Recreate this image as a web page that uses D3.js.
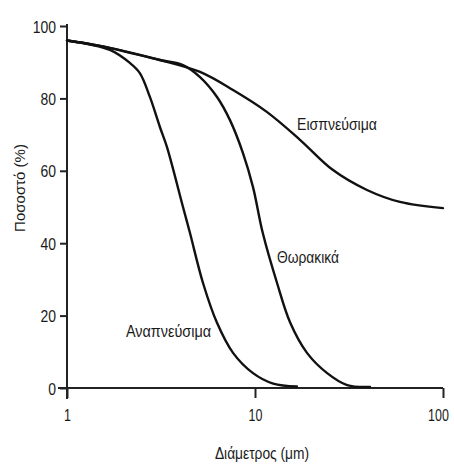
<!DOCTYPE html>
<html>
<head>
<meta charset="utf-8">
<script src="https://cdn.jsdelivr.net/npm/d3@7"></script>
<style>
  html, body { margin: 0; padding: 0; background: #fff; }
  svg text { font-family: "Liberation Sans", Arial, sans-serif; fill: #1a1a1a; }
</style>
</head>
<body>
<svg id="chart" width="454" height="465"></svg>
<script>
// Particle size fractions: collection efficiency (%) vs aerodynamic diameter (μm)
const inhalableD = [1, 1.5, 3.12, 5.10, 7.64, 11.6, 17.4, 26.0, 39.4, 59.0, 100];
const inhalableP = [96, 94.5, 90.6, 87.3, 82.3, 76.2, 68.5, 60.2, 54.7, 51.4, 49.7];

const thoracicD = [1, 1.5, 3.12, 4.14, 5.10, 6.28, 7.36, 8.63, 9.76, 11.0, 13.1, 15.4, 18.9, 24.2, 30.9, 40.9];
const thoracicP = [96, 94.5, 90.6, 89.2, 85.9, 80.4, 74.0, 64.9, 55.5, 42.8, 29.0, 18.0, 9.7, 4.1, 0.8, 0.3];

const respirableD = [1, 1.69, 2.16, 2.44, 2.76, 3.12, 3.40, 4.14, 4.51, 5.29, 6.28, 7.64, 9.76, 12.5, 16.7];
const respirableP = [96, 93.4, 89.8, 87.0, 80.4, 72.1, 66.6, 50.0, 42.8, 29.0, 18.0, 9.7, 4.1, 1.2, 0.4];

const yTicks = [0, 20, 40, 60, 80, 100];
const xTicks = [1, 10, 100];
const xTitle = "Διάμετρος (μm)";
const yTitle = "Ποσοστό (%)";
const curveLabels = ["Εισπνεύσιμα", "Θωρακικά", "Αναπνεύσιμα"];

const svg = d3.select("#chart");
const x = d3.scaleLog().domain([1, 100]).range([67, 443]);
const y = d3.scaleLinear().domain([0, 100]).range([388, 26]);

// narrow the glyphs horizontally, like a condensed sans
function condense(sel, k) {
  sel.each(function () {
    const w = this.getComputedTextLength();
    d3.select(this).attr("textLength", w * k).attr("lengthAdjust", "spacingAndGlyphs");
  });
}

// y axis
const yAxis = svg.append("g").attr("transform", "translate(67,0)")
  .call(d3.axisLeft(y).tickValues(yTicks).tickSize(7).tickPadding(4).tickFormat(d3.format("d")));
yAxis.select(".domain").remove();
yAxis.selectAll("line").attr("stroke", "#222").attr("stroke-width", 2);
yAxis.selectAll("text").attr("font-size", 17).attr("dy", "0.36em").call(condense, 0.82);
svg.append("line").attr("x1", 67).attr("x2", 67).attr("y1", 24).attr("y2", 399)
  .attr("stroke", "#222").attr("stroke-width", 2);

// x axis
const xAxis = svg.append("g").attr("transform", "translate(0,388)")
  .call(d3.axisBottom(x).tickValues(xTicks).tickSize(10).tickPadding(12).tickFormat(d3.format("d")));
xAxis.select(".domain").remove();
xAxis.selectAll("line").attr("stroke", "#222").attr("stroke-width", 2);
xAxis.selectAll("text").attr("font-size", 16).call(condense, 0.78)
  .attr("dx", d => (d === 100 ? -5 : 0));
svg.append("line").attr("x1", 58).attr("x2", 443).attr("y1", 388).attr("y2", 388)
  .attr("stroke", "#222").attr("stroke-width", 2);

// titles
svg.append("text").attr("x", 262).attr("y", 459).attr("text-anchor", "middle")
  .attr("font-size", 16).text(xTitle).call(condense, 0.86);
svg.append("text").attr("transform", "translate(25,188) rotate(-90)")
  .attr("text-anchor", "middle").attr("font-size", 15).text(yTitle);

// curves
const line = d3.line().x(d => x(d[0])).y(d => y(d[1])).curve(d3.curveCatmullRom.alpha(0.5));
const series = [
  [inhalableD, inhalableP],
  [thoracicD, thoracicP],
  [respirableD, respirableP]
];
series.forEach(([ds, ps]) => {
  svg.append("path").datum(ds.map((d, i) => [d, ps[i]]))
    .attr("d", line).attr("fill", "none").attr("stroke", "#111")
    .attr("stroke-width", 2.4).attr("stroke-linecap", "round");
});

// curve labels
const labelPos = [[297, 130], [277, 263], [126, 337]];
const labelW = [80, 62, 85];
curveLabels.forEach((t, i) => {
  svg.append("text").attr("x", labelPos[i][0]).attr("y", labelPos[i][1])
    .attr("font-size", 16).attr("textLength", labelW[i])
    .attr("lengthAdjust", "spacingAndGlyphs").text(t);
});
</script>
</body>
</html>
